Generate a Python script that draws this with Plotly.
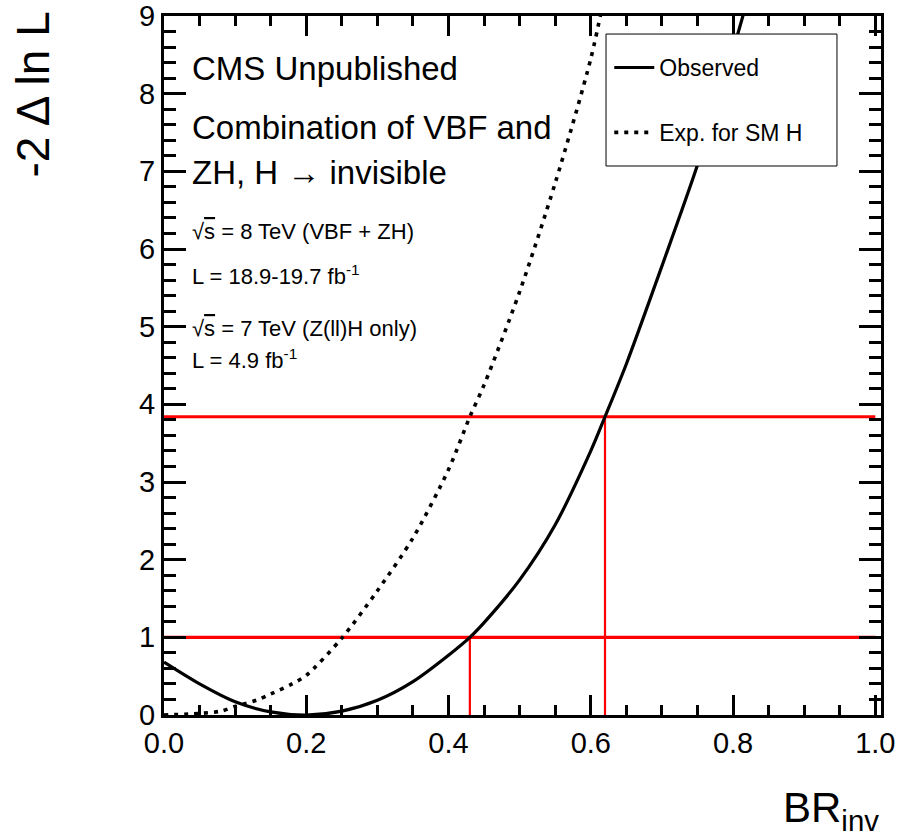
import plotly.graph_objects as go

# Likelihood scan of BR(H -> invisible)
br_obs = [0.00, 0.05, 0.10, 0.15, 0.20, 0.25, 0.30, 0.35, 0.40, 0.43, 0.45, 0.50,
          0.55, 0.60, 0.62, 0.65, 0.70, 0.75, 0.80, 0.82]
nll_obs = [0.68, 0.40, 0.17, 0.04, 0.00, 0.05, 0.19, 0.43, 0.77, 1.00, 1.19, 1.74,
           2.45, 3.40, 3.84, 4.52, 5.78, 7.08, 8.56, 9.20]

br_exp = [0.00, 0.05, 0.08, 0.10, 0.13, 0.15, 0.18, 0.20, 0.25, 0.30, 0.35, 0.40,
          0.43, 0.45, 0.50, 0.55, 0.60, 0.62]
nll_exp = [0.00, 0.02, 0.05, 0.11, 0.19, 0.27, 0.40, 0.51, 0.99, 1.60, 2.28, 3.16,
           3.84, 4.25, 5.45, 6.85, 8.45, 9.30]

# 68% and 95% CL thresholds and the observed limits
cl_levels = [1.0, 3.84]
limit_br = [0.43, 0.62]

x_range = [0.0, 1.008]
y_range = [0.0, 9.0]

FONT = "Liberation Sans, Arial, Helvetica, sans-serif"

fig = go.Figure()

# horizontal CL lines
for lvl in cl_levels:
    fig.add_trace(go.Scatter(x=[0.0, 1.0], y=[lvl, lvl], mode="lines",
                             line=dict(color="#ff0000", width=3.2),
                             showlegend=False, hoverinfo="skip"))
# vertical lines at the observed limits
for xb, lvl in zip(limit_br, cl_levels):
    fig.add_trace(go.Scatter(x=[xb, xb], y=[0.0, lvl], mode="lines",
                             line=dict(color="#ff0000", width=2.2),
                             showlegend=False, hoverinfo="skip"))

fig.add_trace(go.Scatter(x=br_obs, y=nll_obs, mode="lines", name="Observed",
                         line=dict(color="black", width=3.2, shape="spline", smoothing=0.8),
                         legendgroup="obs"))
fig.add_trace(go.Scatter(x=br_exp, y=nll_exp, mode="lines", name="Exp. for SM H",
                         line=dict(color="black", width=3.6, dash="4px,6px",
                                   shape="spline", smoothing=0.8),
                         legendgroup="exp"))

axis_common = dict(
    showline=True, linecolor="black", linewidth=3, mirror="allticks",
    ticks="inside", tickcolor="black", tickwidth=2.5,
    showgrid=False, zeroline=False, automargin=False,
    tickfont=dict(family=FONT, size=29, color="black"),
)

fig.update_xaxes(range=x_range, tick0=0, dtick=0.2, tickformat=".1f", ticklen=20,
                 minor=dict(ticks="inside", dtick=0.05, ticklen=10, tickwidth=2.5,
                            tickcolor="black", showgrid=False),
                 **axis_common)
fig.update_yaxes(range=y_range, tick0=0, dtick=1, tickformat="d", ticklen=22,
                 minor=dict(ticks="inside", dtick=0.2, ticklen=12, tickwidth=2.5,
                            tickcolor="black", showgrid=False),
                 **axis_common)

big = dict(family=FONT, size=33, color="black")
small = dict(family=FONT, size=22, color="black")

labels = [
    ("CMS Unpublished", 8.33, big),
    ("Combination of VBF and", 7.56, big),
    ("ZH, H \u2192 invisible", 6.98, big),
    ("\u221A<span style='text-decoration:overline'>s</span> = 8 TeV (VBF + ZH)", 6.22, small),
    ("L = 18.9-19.7 fb<sup>-1</sup>", 5.66, small),
    ("\u221A<span style='text-decoration:overline'>s</span> = 7 TeV (Z(ll)H only)", 4.98, small),
    ("L = 4.9 fb<sup>-1</sup>", 4.58, small),
]
for txt, yv, f in labels:
    fig.add_annotation(x=0.036, y=yv, xref="x", yref="y", text=txt, showarrow=False,
                       xanchor="left", yanchor="middle", font=f)

# axis titles
fig.add_annotation(x=1.0, y=-0.096, xref="paper", yref="paper", text="BR<sub>inv</sub>",
                   showarrow=False, xanchor="right", yanchor="top",
                   font=dict(family=FONT, size=42, color="black"))
fig.add_annotation(x=-0.183, y=1.009, xref="paper", yref="paper", text="-2 \u0394 ln L",
                   showarrow=False, xanchor="center", yanchor="top", textangle=-90,
                   font=dict(family=FONT, size=46, color="black"))

# legend frame (white box over the curves)
fig.add_shape(type="rect", xref="paper", yref="paper",
              x0=0.6165, x1=0.9386, y0=0.7854, y1=0.9742,
              fillcolor="white", line=dict(color="black", width=1), layer="above")

fig.update_layout(
    width=897, height=837,
    margin=dict(l=164, r=16, t=16, b=122),
    paper_bgcolor="white", plot_bgcolor="white",
    showlegend=True,
    legend=dict(x=0.621, y=0.957, xanchor="left", yanchor="top",
                bgcolor="rgba(0,0,0,0)", borderwidth=0,
                font=dict(family=FONT, size=23, color="black"),
                tracegroupgap=32, itemwidth=40),
)

fig.write_html("out.html")
